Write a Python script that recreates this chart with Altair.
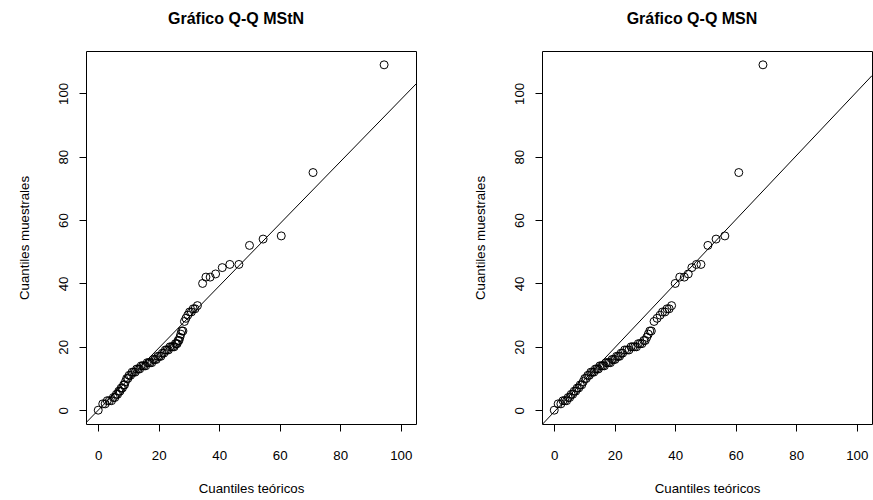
import altair as alt
import pandas as pd

# Sorted sample values (shared by both Q-Q plots)
muestra = [0, 2, 2, 3, 3, 3, 4, 4, 5, 5, 6, 6, 7, 7, 8, 8, 9, 10, 10, 11, 11,
           12, 12, 12, 13, 13, 13, 14, 14, 14, 14, 15, 15, 15, 15, 16, 16, 16,
           17, 17, 17, 18, 18, 19, 19, 19, 20, 20, 20, 20, 21, 21, 21, 22, 22,
           23, 24, 25, 25, 28, 29, 30, 31, 31, 32, 32, 33, 40, 42, 42, 43, 45,
           46, 46, 52, 54, 55, 75, 109]

# Theoretical quantiles, MStN model
teo_mstn = [0, 1.5, 2.3, 3.0, 3.7, 4.4, 5.0, 5.5, 6.0, 6.4, 6.8, 7.2, 7.6, 8.0,
            8.4, 8.7, 9.0, 9.4, 9.8, 10.2, 10.7, 11.2, 11.7, 12.2, 12.7, 13.2,
            13.7, 14.2, 14.7, 15.2, 15.7, 16.2, 16.7, 17.2, 17.7, 18.2, 18.7,
            19.2, 19.7, 20.2, 20.7, 21.2, 21.7, 22.2, 22.7, 23.2, 23.7, 24.2,
            24.7, 25.1, 25.5, 25.8, 26.1, 26.4, 26.7, 27.0, 27.3, 27.6, 28.0,
            28.5, 29.0, 29.6, 30.2, 30.8, 31.4, 32.0, 32.8, 34.5, 35.6, 37.0,
            38.8, 41.0, 43.5, 46.5, 50.0, 54.5, 60.5, 71.0, 94.5]

# Theoretical quantiles, MSN model
teo_msn = [0, 1.3, 2.2, 2.9, 3.5, 4.1, 4.6, 5.1, 5.6, 6.1, 6.6, 7.1, 7.6, 8.1,
           8.6, 9.1, 9.6, 10.1, 10.6, 11.1, 11.6, 12.1, 12.6, 13.1, 13.6, 14.1,
           14.6, 15.1, 15.6, 16.1, 16.6, 17.1, 17.6, 18.1, 18.6, 19.1, 19.6,
           20.1, 20.6, 21.1, 21.6, 22.1, 22.6, 23.3, 24.0, 24.7, 25.4, 26.0,
           26.6, 27.2, 27.8, 28.4, 29.0, 29.6, 30.1, 30.6, 31.1, 31.6, 32.1,
           33.0, 34.0, 35.0, 35.8, 36.6, 37.3, 38.0, 38.8, 40.0, 41.5, 43.0,
           44.3, 45.5, 47.0, 48.5, 50.8, 53.5, 56.4, 61.0, 69.0]

# Reference lines (intercept, slope)
linea_mstn = [0.0, 0.98]
linea_msn = [-0.5, 1.01]

titulos = ["Gráfico Q-Q MStN", "Gráfico Q-Q MSN"]
ticks = [0, 20, 40, 60, 80, 100]
x_dom = [-4.04, 105.04]
y_dom = [-4.36, 113.36]

FONT = "Liberation Sans"
FS = 13.3


def panel(xs, linea, titulo):
    df = pd.DataFrame({"x": xs, "y": muestra})
    a, b = linea
    ldf = pd.DataFrame({"x": x_dom, "y": [a + b * v for v in x_dom]})
    xsc = alt.Scale(domain=x_dom, nice=False, zero=False)
    ysc = alt.Scale(domain=y_dom, nice=False, zero=False)
    xax = alt.Axis(values=ticks, title="Cuantiles teóricos", grid=False,
                   domain=False, tickSize=7, tickColor="black",
                   labelColor="black", labelFontSize=FS, labelFont=FONT,
                   labelPadding=17, titleFont=FONT, titleFontSize=FS,
                   titleFontWeight="normal", titleColor="black",
                   titlePadding=20)
    yax = alt.Axis(values=ticks, title="Cuantiles muestrales", grid=False,
                   domain=False, tickSize=7, tickColor="black",
                   labelColor="black", labelFontSize=FS, labelFont=FONT,
                   labelAngle=270, labelAlign="center",
                   labelBaseline="bottom", labelPadding=9,
                   titleFont=FONT, titleFontSize=FS, titleFontWeight="normal",
                   titleColor="black", titlePadding=25)
    pts = alt.Chart(df).mark_point(shape="circle", filled=False,
                                   color="black", size=64,
                                   strokeWidth=1, opacity=1).encode(
        x=alt.X("x:Q", scale=xsc, axis=xax),
        y=alt.Y("y:Q", scale=ysc, axis=yax),
    )
    ln = alt.Chart(ldf).mark_line(color="black", strokeWidth=1,
                                  clip=True).encode(
        x=alt.X("x:Q", scale=xsc),
        y=alt.Y("y:Q", scale=ysc),
    )
    return alt.layer(pts, ln).properties(
        width=330, height=373,
        title=alt.TitleParams(titulo, fontSize=16, fontWeight="bold",
                              font=FONT, color="black", offset=24,
                              frame="group", anchor="middle", dx=-15),
    )


chart = alt.hconcat(
    panel(teo_mstn, linea_mstn, titulos[0]),
    panel(teo_msn, linea_msn, titulos[1]),
    spacing=55,
).properties(
    padding={"left": 16, "top": 10, "right": 0, "bottom": 0},
    background="white",
).configure_view(stroke="black", strokeWidth=1)

chart.save("out.html", embed_options={"renderer": "svg", "actions": False})
